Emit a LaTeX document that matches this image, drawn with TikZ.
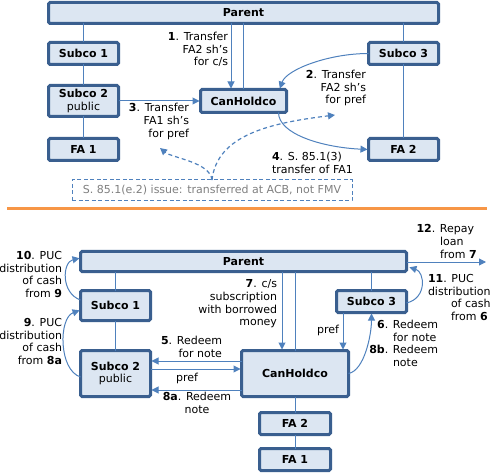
\documentclass[tikz,border=0pt]{standalone}
\usepackage{fontspec}
\setmainfont{DejaVu Sans}
\usetikzlibrary{arrows.meta,calc}
\definecolor{boxfill}{HTML}{DCE6F2}
\definecolor{boxline}{HTML}{3A5F8F}
\definecolor{linkc}{HTML}{4F81BD}
\definecolor{orangec}{HTML}{F79646}
\definecolor{grayt}{HTML}{7F7F7F}
\begin{document}
\begin{tikzpicture}[x=1pt,y=-1pt,
  every node/.style={font=\fontsize{11}{12.6}\selectfont, inner sep=0pt, outer sep=0pt},
  box/.style={draw=boxline, fill=boxfill, line width=3pt, rounded corners=1.5pt, align=center},
  link/.style={draw=linkc, line width=1pt},
  arr/.style={link, shorten >=1pt, -{Triangle[length=7pt,width=7pt]}},
  dasharr/.style={draw=linkc, line width=1.2pt, dash pattern=on 4pt off 3pt, -{Triangle[length=7pt,width=7pt]}},
  dbox/.style={draw=linkc, line width=1pt, dash pattern=on 4pt off 2.5pt, text=grayt},
]
\useasboundingbox (0,0) rectangle (490,473);

% ---------- top diagram ----------
\node[box, minimum width=390pt, minimum height=21pt] (P1) at (243.5,13) {\textbf{Parent}};
\node[box, minimum width=70pt, minimum height=22pt] (S1) at (83.5,53.5) {\textbf{Subco 1}};
\node[box, minimum width=70pt, minimum height=31pt] (S2) at (83.5,101) {\textbf{Subco 2}\\public};
\node[box, minimum width=70pt, minimum height=22pt] (FA1) at (83.5,149.5) {\textbf{FA 1}};
\node[box, minimum width=86pt, minimum height=23pt] (CH) at (243.5,101) {\textbf{CanHoldco}};
\node[box, minimum width=70pt, minimum height=22pt] (S3) at (403.5,53.5) {\textbf{Subco 3}};
\node[box, minimum width=70pt, minimum height=22pt] (FA2) at (403.5,149.5) {\textbf{FA 2}};

\draw[link] (S1.north) -- (S1.north |- P1.south);
\draw[link] (S1.south) -- (S2.north);
\draw[link] (S2.south) -- (FA1.north);
\draw[link] (S3.north) -- (S3.north |- P1.south);
\draw[link] (S3.south) -- (FA2.north);
\draw[link] (CH.north) -- (CH.north |- P1.south);
\draw[arr] ([xshift=-12.5pt]CH.north |- P1.south) -- ([xshift=-12.5pt]CH.north);
\draw[arr] (S2.east) -- (CH.west);
\draw[arr] (S3.west) .. controls ($(S3.west)+(-40,0)$) and ($([xshift=36pt]CH.north)+(7,-20)$) .. ([xshift=36pt]CH.north);
\draw[arr] ([xshift=35pt]CH.south) .. controls ($([xshift=35pt]CH.south)+(0,22)$) and ($(FA2.west)+(-45,-2)$) .. (FA2.west);

\node[anchor=east, align=right] (L1) at (228,49.5) {\textbf{1}. Transfer\\FA2 sh’s\\for c/s};
\node[anchor=east, align=right] (L3) at (189,121.5) {\textbf{3}. Transfer\\FA1 sh’s\\for pref};
\node[anchor=east, align=right] (L2) at (366,88) {\textbf{2}. Transfer\\FA2 sh’s\\for pref};
\node[anchor=west, align=left] (L4) at (272,163) {\textbf{4}. S. 85.1(3)\\transfer of FA1};

\node[dbox, minimum width=280pt, minimum height=21pt] (DB) at (212,190.5) {S. 85.1(e.2) issue: transferred at ACB, not FMV};
\coordinate (T3) at (160,148);
\coordinate (T2) at (335,115);
\draw[dasharr] (DB.north) .. controls ($(DB.north)+(-2,-18)$) and ($(T3)+(12,10)$) .. (T3);
\draw[dasharr] (DB.north) .. controls ($(DB.north)+(5,-45)$) and ($(T2)+(-65,8)$) .. (T2);

% ---------- separator ----------
\draw[orangec, line width=3pt] (7,209) -- (487,209);

% ---------- bottom diagram ----------
\node[box, minimum width=326pt, minimum height=20pt] (P2) at (243.5,261.5) {\textbf{Parent}};
\node[box, minimum width=70pt, minimum height=30pt] (BS1) at (115.5,305.5) {\textbf{Subco 1}};
\node[box, minimum width=70pt, minimum height=46pt] (BS2) at (115.5,373.5) {\textbf{Subco 2}\\public};
\node[box, minimum width=107pt, minimum height=46pt] (BCH) at (295,373.5) {\textbf{CanHoldco}};
\node[box, minimum width=70pt, minimum height=22pt] (BS3) at (371.5,301.5) {\textbf{Subco 3}};
\node[box, minimum width=71pt, minimum height=22pt] (BFA2) at (295,423.5) {\textbf{FA 2}};
\node[box, minimum width=71pt, minimum height=22pt] (BFA1) at (295,459.5) {\textbf{FA 1}};

\draw[link] (BS1.north) -- (BS1.north |- P2.south);
\draw[link] (BS1.south) -- (BS2.north);
\draw[link] (BS3.north) -- (BS3.north |- P2.south);
\draw[link] (BCH.north) -- (BCH.north |- P2.south);
\draw[link] (BCH.south) -- (BFA2.north);
\draw[link] (BFA2.south) -- (BFA1.north);
\draw[arr] ([xshift=-13pt]BCH.north |- P2.south) -- ([xshift=-13pt]BCH.north);
\draw[arr] ([xshift=-28.5pt]BS3.south) -- ([xshift=-28.5pt]BS3.south |- BCH.north);
\draw[arr] ([yshift=12.5pt]BCH.west) -- ([yshift=12.5pt]BS2.east);
\draw[arr] ([yshift=4.5pt]BS2.east) -- ([yshift=4.5pt]BCH.west);
\draw[arr] ([yshift=-16.5pt]BCH.west) -- ([yshift=-16.5pt]BS2.east);
\draw[arr] ([yshift=5.5pt]BS1.west) .. controls ($([yshift=5.5pt]BS1.west)+(-20,-7)$) and ($([yshift=3.5pt]P2.west)+(-18,4)$) .. ([yshift=3.5pt]P2.west);
\draw[arr] ([yshift=-3.5pt]BS2.west) .. controls ($([yshift=-3.5pt]BS2.west)+(-22,-7)$) and ($([yshift=-4.5pt]BS1.west)+(-22,8)$) .. ([yshift=-4.5pt]BS1.west);
\draw[arr] ([yshift=-1.5pt]BS3.east) .. controls ($([yshift=-1.5pt]BS3.east)+(21,-5)$) and ($([yshift=-5.5pt,xshift=2pt]P2.east)+(16,5)$) .. ([yshift=-5.5pt,xshift=2pt]P2.east);
\draw[arr] (BCH.east) .. controls ($(BCH.east)+(16,-3)$) and ($(BS3.south)+(0,22)$) .. (BS3.south);
\coordinate (T12) at (487,262);
\draw[arr] ([yshift=-0.5pt]P2.east) -- (T12);

\node[anchor=east, align=right] (L10) at (62,274.5) {\textbf{10}. PUC\\distribution\\of cash\\from \textbf{9}};
\node[anchor=east, align=right] (L9) at (62,341.5) {\textbf{9}. PUC\\distribution\\of cash\\from \textbf{8a}};
\node[anchor=east, align=right] (L7) at (277,304) {\textbf{7}. c/s\\subscription\\with borrowed\\money};
\node[anchor=east, align=right] (L5) at (222,347) {\textbf{5}. Redeem\\for note};
\node (LP1) at (187,378) {pref};
\node[align=center] (L8a) at (197,403) {\textbf{8a}. Redeem\\note};
\node (LP2) at (328,330) {pref};
\node[anchor=west, align=left] (L6) at (393,343.5) {\leavevmode\llap{\textbf{6}. }Redeem\\for note\\\llap{\textbf{8b}. }Redeem\\note};
\node[anchor=west, align=left] (L11) at (428,297.5) {\textbf{11}. PUC\\distribution\\\hspace*{23pt}of cash\\\hspace*{23pt}from \textbf{6}};
\node[anchor=west, align=left] (L12) at (440,241.5) {\leavevmode\llap{\textbf{12}. }Repay\\loan\\from \textbf{7}};
\end{tikzpicture}
\end{document}
